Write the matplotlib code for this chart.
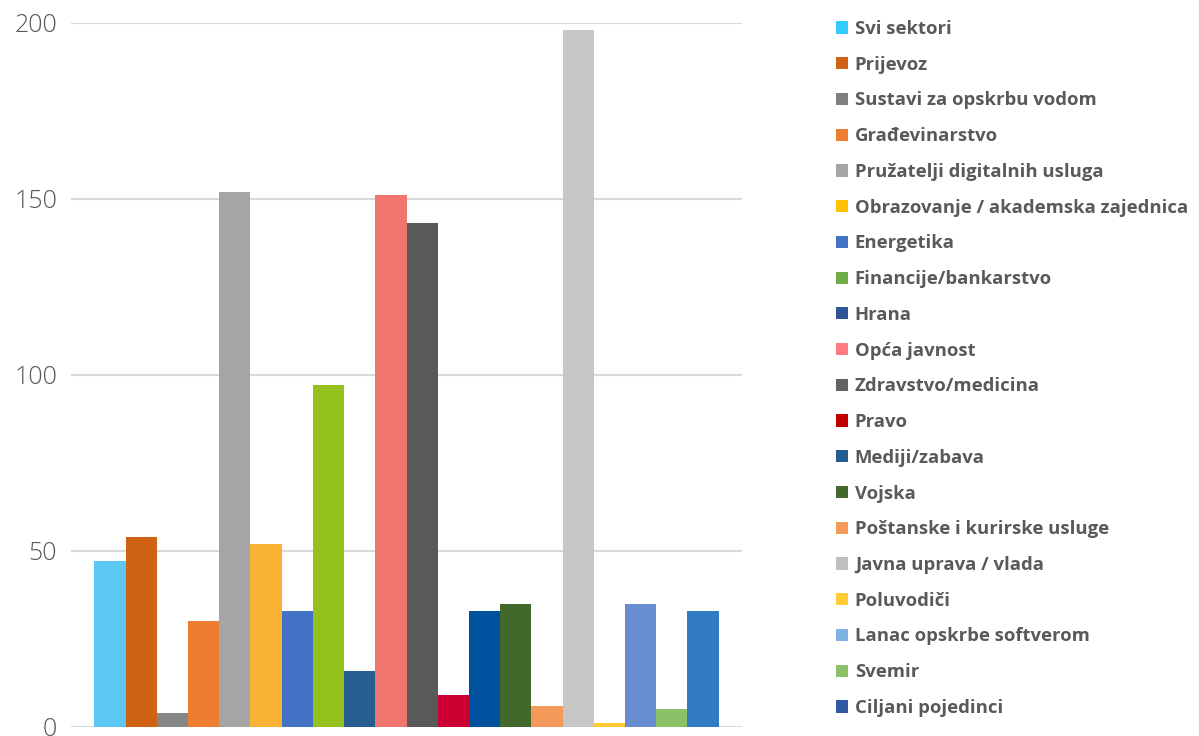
import matplotlib
matplotlib.use("Agg")
import matplotlib.pyplot as plt
from matplotlib.patches import Patch
from matplotlib import font_manager

# sectors and counts, in the order of the legend
sectors = ["Svi sektori", "Prijevoz", "Sustavi za opskrbu vodom", "Građevinarstvo",
           "Pružatelji digitalnih usluga", "Obrazovanje / akademska zajednica",
           "Energetika", "Financije/bankarstvo", "Hrana", "Opća javnost",
           "Zdravstvo/medicina", "Pravo", "Mediji/zabava", "Vojska",
           "Poštanske i kurirske usluge", "Javna uprava / vlada", "Poluvodiči",
           "Lanac opskrbe softverom", "Svemir", "Ciljani pojedinci"]
counts = [47, 54, 4, 30, 152, 52, 33, 97, 16, 151, 143, 9, 33, 35, 6, 198, 1, 35, 5, 33]

bar_colors = ["#5BC8F4", "#D06214", "#868686", "#ED7D31", "#A5A5A5", "#F9B233",
              "#4472C4", "#95C11F", "#265E8F", "#EF756E", "#595959", "#CC0033",
              "#00519E", "#43682B", "#F4995A", "#C6C6C6", "#FFC933", "#698ED0",
              "#8CC168", "#337CC4"]
# legend swatches don't quite match the bars in the original
legend_colors = ["#33CCFF", "#D06214", "#7F7F7F", "#ED7D31", "#A5A5A5", "#FFC000",
                 "#4472C4", "#70AD47", "#2F5597", "#FF7C80", "#636363", "#C00000",
                 "#255E91", "#43682B", "#F4995A", "#BFBFBF", "#FFCC33", "#7FB2E5",
                 "#8CC168", "#3358A4"]

fams = {f.name for f in font_manager.fontManager.ttflist}
font = "Open Sans" if "Open Sans" in fams else "DejaVu Sans"

fig = plt.figure(figsize=(11.99, 7.36), dpi=100)
ax = fig.add_axes([71 / 1199, 1 - 727 / 736, 671 / 1199, (727 - 22.7) / 736])

x = list(range(len(counts)))
ax.bar(x, counts, width=1.0, color=bar_colors, zorder=3)

ax.set_ylim(0, 200)
ax.set_xlim(-1.25, 20.25)
ax.set_yticks([0, 50, 100, 150, 200])
ax.set_xticks([])
ax.yaxis.grid(True, color="#D9D9D9", linewidth=1.5, zorder=0)
for s in ax.spines.values():
    s.set_visible(False)
ax.tick_params(axis="y", length=0, pad=10, labelsize=18, labelcolor="#595959")
for t in ax.get_yticklabels():
    t.set_fontfamily(font)
    t.set_fontweight("light")

handles = [Patch(facecolor=c, edgecolor="none") for c in legend_colors]
leg = ax.legend(handles, sectors, loc="upper left", bbox_to_anchor=(836 / 1199, 1 - 20 / 736),
                bbox_transform=fig.transFigure, frameon=False,
                prop={"family": font, "weight": "bold", "size": 13.3},
                handlelength=0.64, handleheight=0.64, handletextpad=0.38,
                labelspacing=0.96, borderaxespad=0, borderpad=0)
for t in leg.get_texts():
    t.set_color("#595959")

fig.savefig("out.png", dpi=100)
